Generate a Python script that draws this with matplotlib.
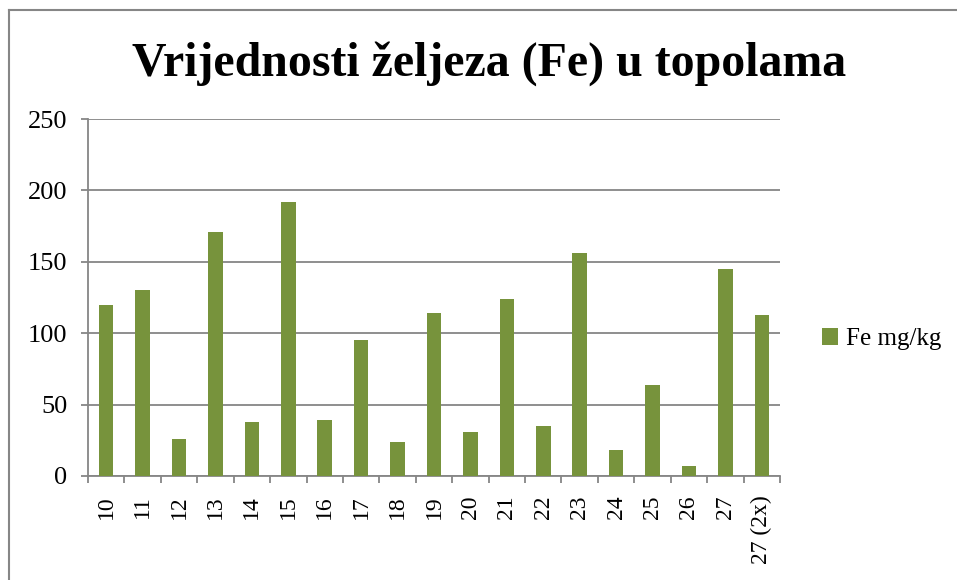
import matplotlib
matplotlib.use("Agg")
import matplotlib.pyplot as plt
from matplotlib.patches import Patch
from matplotlib.lines import Line2D

# Iron content per sample
categories = ["10", "11", "12", "13", "14", "15", "16", "17", "18", "19",
              "20", "21", "22", "23", "24", "25", "26", "27", "27 (2x)"]
fe_values = [120, 130, 26, 171, 38, 192, 39, 95, 24, 114,
             31, 124, 35, 156, 18, 64, 7, 145, 113]
y_ticks = [0, 50, 100, 150, 200, 250]
series_name = "Fe mg/kg"
title = "Vrijednosti željeza (Fe) u topolama"

BAR = "#77933C"
GRID = "#868686"
W, H = 957, 580

plt.rcParams["font.family"] = ["Liberation Serif", "DejaVu Serif"]

fig = plt.figure(figsize=(W / 100, H / 100), dpi=100)
ax = fig.add_axes([88 / W, 1 - 476 / H, (780 - 88) / W, (476 - 119) / H])

x = list(range(len(categories)))
ax.bar(x, fe_values, width=0.4, color=BAR, zorder=3)

ax.set_xlim(-0.5, len(categories) - 0.5)
ax.set_ylim(0, 250)
ax.set_yticks(y_ticks)
ax.set_yticklabels([str(v) for v in y_ticks], fontsize=19)
ax.yaxis.grid(True, color=GRID, linewidth=1.3, zorder=0)
ax.set_axisbelow(True)

# category labels centered on bars, tick marks on category boundaries
ax.set_xticks(x)
ax.set_xticklabels(categories, rotation=90, fontsize=17, va="top")
ax.tick_params(axis="x", which="major", length=0, pad=14)
ax.set_xticks([i - 0.5 for i in range(len(categories) + 1)], minor=True)
ax.tick_params(axis="x", which="minor", length=5, width=1.3, color=GRID)
ax.tick_params(axis="y", length=5, width=1.3, color=GRID, pad=10)

for s in ("top", "right"):
    ax.spines[s].set_visible(False)
for s in ("left", "bottom"):
    ax.spines[s].set_color(GRID)
    ax.spines[s].set_linewidth(1.3)

fig.text(489.5 / W, 1 - 76 / H, title, ha="center", va="baseline",
         fontsize=34.5, fontweight="bold")

fig.legend(handles=[Patch(facecolor=BAR, edgecolor="none", label=series_name)],
           loc="center left", bbox_to_anchor=(822 / W, 1 - 339 / H),
           bbox_transform=fig.transFigure, frameon=False, fontsize=18,
           handlelength=0.65, handleheight=0.65, handletextpad=0.3,
           borderpad=0, borderaxespad=0)

# chart-area frame (left and top edges)
fig.add_artist(Line2D([9 / W, 9 / W], [0, 1 - 10 / H], transform=fig.transFigure,
                      color=GRID, linewidth=1.5))
fig.add_artist(Line2D([9 / W, 1], [1 - 10 / H, 1 - 10 / H], transform=fig.transFigure,
                      color=GRID, linewidth=1.5))

fig.savefig("out.png", dpi=100)
